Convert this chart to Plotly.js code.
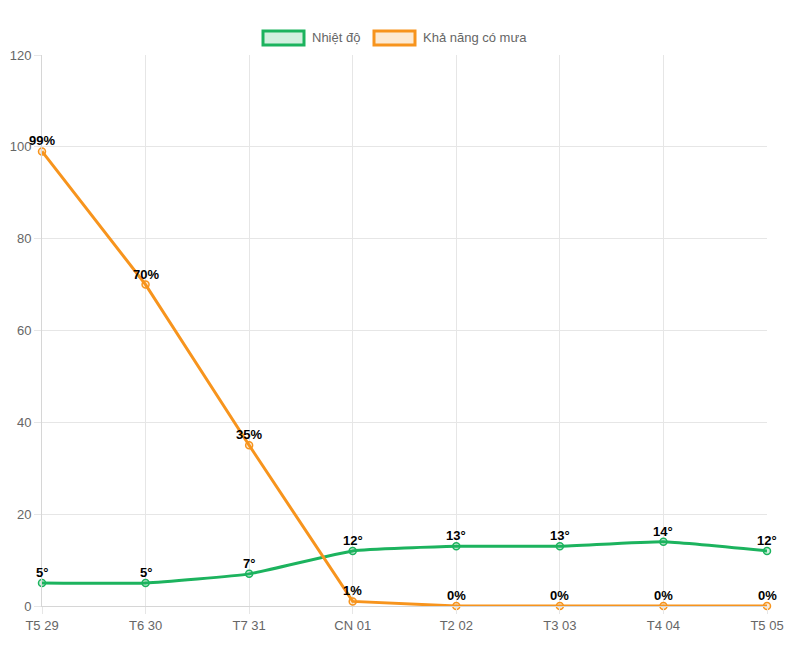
<!DOCTYPE html>
<html>
<head>
<meta charset="utf-8">
<script src="https://cdn.plot.ly/plotly-3.0.1.min.js"></script>
<style>html,body{margin:0;padding:0;background:#fff}#chart{width:800px;height:650px}</style>
</head>
<body>
<div id="chart"></div>
<script>
const days = ["T5 29", "T6 30", "T7 31", "CN 01", "T2 02", "T3 03", "T4 04", "T5 05"];
const temperature = [5, 5, 7, 12, 13, 13, 14, 12];
const rainChance = [99, 70, 35, 1, 0, 0, 0, 0];
const seriesNames = ["Nhiệt độ", "Khả năng có mưa"];

const green = "#1cb35e";
const orange = "#f7941d";
const FONT = "Liberation Sans, Arial, Helvetica, sans-serif";

const traces = [
  {
    x: days, y: temperature, name: seriesNames[0], type: "scatter",
    mode: "lines+markers",
    line: {color: green, width: 3, shape: "spline", smoothing: 0.4},
    marker: {size: 7, color: "rgba(28,179,94,0.2)", line: {color: green, width: 1.5}},
    cliponaxis: false, showlegend: false, hoverinfo: "skip"
  },
  {
    x: days, y: rainChance, name: seriesNames[1], type: "scatter",
    mode: "lines+markers",
    line: {color: orange, width: 3},
    marker: {size: 7, color: "rgba(247,148,29,0.2)", line: {color: orange, width: 1.5}},
    cliponaxis: false, showlegend: false, hoverinfo: "skip"
  }
];

const labelFont = {family: FONT, size: 13, color: "#000", weight: "bold"};
const dataLabels = [];
days.forEach((d, i) => {
  dataLabels.push({x: d, y: temperature[i], xref: "x", yref: "y", text: temperature[i] + "°",
    showarrow: false, xanchor: "center", yanchor: "bottom", yshift: 1, font: labelFont});
  dataLabels.push({x: d, y: rainChance[i], xref: "x", yref: "y", text: rainChance[i] + "%",
    showarrow: false, xanchor: "center", yanchor: "bottom", yshift: 1, font: labelFont});
});

const layout = {
  width: 800, height: 650,
  margin: {l: 42, r: 33, t: 55, b: 44},
  paper_bgcolor: "#fff", plot_bgcolor: "#fff",
  font: {family: FONT, size: 13, color: "#666"},
  xaxis: {
    type: "category", range: [0, 7],
    showgrid: true, gridcolor: "#e6e6e6", gridwidth: 1,
    ticks: "outside", ticklen: 7, tickcolor: "#e6e6e6",
    showline: true, linecolor: "#d6d6d6", linewidth: 1,
    zeroline: false,
    tickfont: {family: FONT, size: 13, color: "#666"}
  },
  yaxis: {
    range: [0, 120], dtick: 20, tick0: 0,
    showgrid: true, gridcolor: "#e6e6e6", gridwidth: 1,
    ticks: "outside", ticklen: 7, tickcolor: "#e6e6e6",
    showline: true, linecolor: "#d6d6d6", linewidth: 1,
    zeroline: false,
    tickfont: {family: FONT, size: 13, color: "#666"}
  },
  shapes: [
    {type: "rect", xref: "paper", yref: "paper",
     x0: (263 - 42) / 725, x1: (304 - 42) / 725,
     y0: (606 - 45) / 551, y1: (606 - 31) / 551,
     line: {color: green, width: 3}, fillcolor: "rgba(28,179,94,0.2)"},
    {type: "rect", xref: "paper", yref: "paper",
     x0: (374 - 42) / 725, x1: (415 - 42) / 725,
     y0: (606 - 45) / 551, y1: (606 - 31) / 551,
     line: {color: orange, width: 3}, fillcolor: "rgba(247,148,29,0.2)"}
  ],
  annotations: [
    {xref: "paper", yref: "paper", x: (310 - 42) / 725, y: (606 - 38) / 551,
     xanchor: "left", yanchor: "middle", showarrow: false, text: seriesNames[0],
     font: {family: FONT, size: 13, color: "#666"}},
    {xref: "paper", yref: "paper", x: (421 - 42) / 725, y: (606 - 38) / 551,
     xanchor: "left", yanchor: "middle", showarrow: false, text: seriesNames[1],
     font: {family: FONT, size: 13, color: "#666"}}
  ].concat(dataLabels)
};

Plotly.newPlot("chart", traces, layout, {displayModeBar: false, staticPlot: true});
</script>
</body>
</html>
